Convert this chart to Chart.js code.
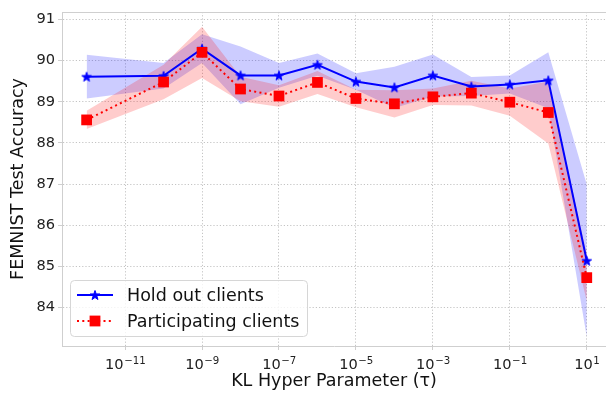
<!DOCTYPE html>
<html>
<head>
<meta charset="utf-8">
<script src="https://cdn.jsdelivr.net/npm/chart.js@4"></script>
<style>
  html, body { margin: 0; padding: 0; background: #fff; }
</style>
</head>
<body>
<canvas id="klChart" width="606" height="396"></canvas>
<script>
// KL hyper parameter values (tau)
const tauValues = [1e-12, 1e-10, 1e-9, 1e-8, 1e-7, 1e-6, 1e-5, 1e-4, 1e-3, 1e-2, 1e-1, 1e0, 1e1];

// Hold out clients: mean accuracy and spread
const holdOutMean = [89.61, 89.63, 90.29, 89.64, 89.64, 89.90, 89.49, 89.35, 89.64, 89.37, 89.42, 89.52, 85.14];
const holdOutStd  = [0.53, 0.31, 0.35, 0.70, 0.30, 0.27, 0.20, 0.50, 0.51, 0.23, 0.22, 0.68, 1.85];

// Participating clients: mean accuracy and spread
const partMean = [88.56, 89.48, 90.20, 89.31, 89.14, 89.47, 89.08, 88.95, 89.12, 89.21, 88.99, 88.74, 84.73];
const partStd  = [0.22, 0.42, 0.62, 0.30, 0.26, 0.28, 0.21, 0.33, 0.20, 0.30, 0.33, 0.75, 0.57];

// axis ticks (x labels are 10 raised to these exponents)
const xTicks = [1e-11, 1e-9, 1e-7, 1e-5, 1e-3, 1e-1, 1e1];
const xTickExps = ['−11', '−9', '−7', '−5', '−3', '−1', '1'];
const yTicks = [84, 85, 86, 87, 88, 89, 90, 91];

const FONT = "'DejaVu Sans', sans-serif";
const gridColor = '#c4c4c4';
const spineColor = '#cfcfcf';

const pts = (ys) => tauValues.map((x, i) => ({ x: x, y: ys[i] }));
const shift = (ys, sd, sign) => ys.map((v, i) => v + sign * sd[i]);

// filled star marker like matplotlib '*'
function starMarker(r, color) {
    const c = document.createElement('canvas');
    const s = Math.ceil(r * 2 + 4);
    c.width = s; c.height = s;
    const g = c.getContext('2d');
    g.fillStyle = color;
    g.strokeStyle = color;
    g.lineWidth = 1;
    g.beginPath();
    for (let i = 0; i < 10; i++) {
        const rr = i % 2 ? r * 0.4 : r;
        const a = -Math.PI / 2 + i * Math.PI / 5;
        g.lineTo(s / 2 + rr * Math.cos(a), s / 2 + 0.5 + rr * Math.sin(a));
    }
    g.closePath();
    g.fill();
    g.stroke();
    return c;
}
const blueStar = starMarker(5, '#0000ff');

// top spine, power-of-ten tick labels, legend box
const extras = {
    id: 'extras',
    afterDraw(chart) {
        const ctx = chart.ctx;
        const a = chart.chartArea;
        ctx.save();
        ctx.strokeStyle = spineColor;
        ctx.lineWidth = 1;
        ctx.beginPath();
        ctx.moveTo(a.left, a.top + 0.5);
        ctx.lineTo(a.right, a.top + 0.5);
        ctx.stroke();

        // x tick labels: 10 with superscript exponent
        const xs = chart.scales.x;
        ctx.fillStyle = '#222';
        ctx.textBaseline = 'alphabetic';
        ctx.textAlign = 'left';
        xTicks.forEach((v, i) => {
            const px = xs.getPixelForValue(v);
            ctx.font = '14.6px ' + FONT;
            const wb = ctx.measureText('10').width;
            ctx.font = '10.2px ' + FONT;
            const we = ctx.measureText(xTickExps[i]).width;
            const x0 = px - (wb + we) / 2;
            ctx.font = '14.6px ' + FONT;
            ctx.fillText('10', x0, a.bottom + 23);
            ctx.font = '10.2px ' + FONT;
            ctx.fillText(xTickExps[i], x0 + wb + 0.5, a.bottom + 17.5);
        });

        // legend
        const bx = 70.5, by = 280.5, bw = 237, bh = 56, r = 4;
        ctx.beginPath();
        ctx.roundRect(bx, by, bw, bh, r);
        ctx.fillStyle = 'rgba(255,255,255,0.8)';
        ctx.fill();
        ctx.strokeStyle = '#d6d6d6';
        ctx.stroke();

        const rows = [
            { y: 295, label: 'Hold out clients', color: '#0000ff', dash: [], marker: 'star' },
            { y: 321, label: 'Participating clients', color: '#ff0000', dash: [2, 3.3], marker: 'rect' }
        ];
        rows.forEach(row => {
            ctx.strokeStyle = row.color;
            ctx.lineWidth = 2;
            ctx.setLineDash(row.dash);
            ctx.beginPath();
            ctx.moveTo(77, row.y);
            ctx.lineTo(113, row.y);
            ctx.stroke();
            ctx.setLineDash([]);
            if (row.marker === 'star') {
                ctx.drawImage(blueStar, 95 - blueStar.width / 2, row.y - blueStar.height / 2);
            } else {
                ctx.fillStyle = row.color;
                ctx.fillRect(89.6, row.y - 5.4, 10.8, 10.8);
            }
            ctx.fillStyle = '#111';
            ctx.font = '17.5px ' + FONT;
            ctx.textBaseline = 'middle';
            ctx.textAlign = 'left';
            ctx.fillText(row.label, 127, row.y + 1);
        });
        ctx.restore();
    }
};

const ctx = document.getElementById('klChart').getContext('2d');
const klChart = new Chart(ctx, {
    type: 'line',
    data: {
        datasets: [
            {
                label: 'Participating clients',
                data: pts(partMean),
                borderColor: '#ff0000',
                borderWidth: 2,
                borderDash: [2, 3.3],
                borderCapStyle: 'butt',
                pointStyle: 'rect',
                pointRadius: 7.6,
                pointBackgroundColor: '#ff0000',
                pointBorderWidth: 0,
                fill: false,
                order: 0
            },
            {
                label: 'Hold out clients',
                data: pts(holdOutMean),
                borderColor: '#0000ff',
                borderWidth: 2,
                pointStyle: blueStar,
                pointRadius: 5,
                fill: false,
                order: 1
            },
            {
                label: 'part upper',
                data: pts(shift(partMean, partStd, 1)),
                borderWidth: 0,
                borderColor: 'rgba(0,0,0,0)',
                pointRadius: 0,
                backgroundColor: 'rgba(255,0,0,0.2)',
                fill: '+1',
                order: 2
            },
            {
                label: 'part lower',
                data: pts(shift(partMean, partStd, -1)),
                borderWidth: 0,
                borderColor: 'rgba(0,0,0,0)',
                pointRadius: 0,
                fill: false,
                order: 2
            },
            {
                label: 'hold upper',
                data: pts(shift(holdOutMean, holdOutStd, 1)),
                borderWidth: 0,
                borderColor: 'rgba(0,0,0,0)',
                pointRadius: 0,
                backgroundColor: 'rgba(0,0,255,0.2)',
                fill: '+1',
                order: 3
            },
            {
                label: 'hold lower',
                data: pts(shift(holdOutMean, holdOutStd, -1)),
                borderWidth: 0,
                borderColor: 'rgba(0,0,0,0)',
                pointRadius: 0,
                fill: false,
                order: 3
            }
        ]
    },
    options: {
        responsive: false,
        animation: false,
        layout: { autoPadding: false, padding: { top: 12, right: 0, left: 0, bottom: 0 } },
        plugins: {
            legend: { display: false },
            tooltip: { enabled: false }
        },
        scales: {
            x: {
                type: 'logarithmic',
                min: Math.pow(10, -12.64),
                max: Math.pow(10, 1.5),
                afterBuildTicks: (scale) => { scale.ticks = xTicks.map(v => ({ value: v })); },
                afterFit: (scale) => {
                    scale.height = 50;
                    scale.paddingLeft = 0;
                    scale.paddingRight = 0;
                },
                ticks: { display: false },
                grid: { color: gridColor, tickColor: spineColor, tickLength: 4, lineWidth: 1 },
                border: { color: spineColor, width: 1, dash: [1.2, 2] },
                title: {
                    display: true,
                    text: 'KL Hyper Parameter (τ)',
                    color: '#111',
                    font: { family: FONT, size: 17.5 },
                    padding: { top: 0, bottom: 4 }
                }
            },
            y: {
                min: 83.07,
                max: 91.18,
                afterBuildTicks: (scale) => { scale.ticks = yTicks.map(v => ({ value: v })); },
                afterFit: (scale) => {
                    scale.width = 62;
                    scale.paddingTop = 0;
                    scale.paddingBottom = 0;
                },
                ticks: {
                    padding: 3,
                    color: '#222',
                    font: { family: FONT, size: 14.6 }
                },
                grid: { color: gridColor, tickColor: spineColor, tickLength: 4, lineWidth: 1 },
                border: { color: spineColor, width: 1, dash: [1.2, 2] },
                title: {
                    display: true,
                    text: 'FEMNIST Test Accuracy',
                    color: '#111',
                    font: { family: FONT, size: 17.5 },
                    padding: { top: 8, bottom: 0 }
                }
            }
        }
    },
    plugins: [extras]
});
</script>
</body>
</html>
